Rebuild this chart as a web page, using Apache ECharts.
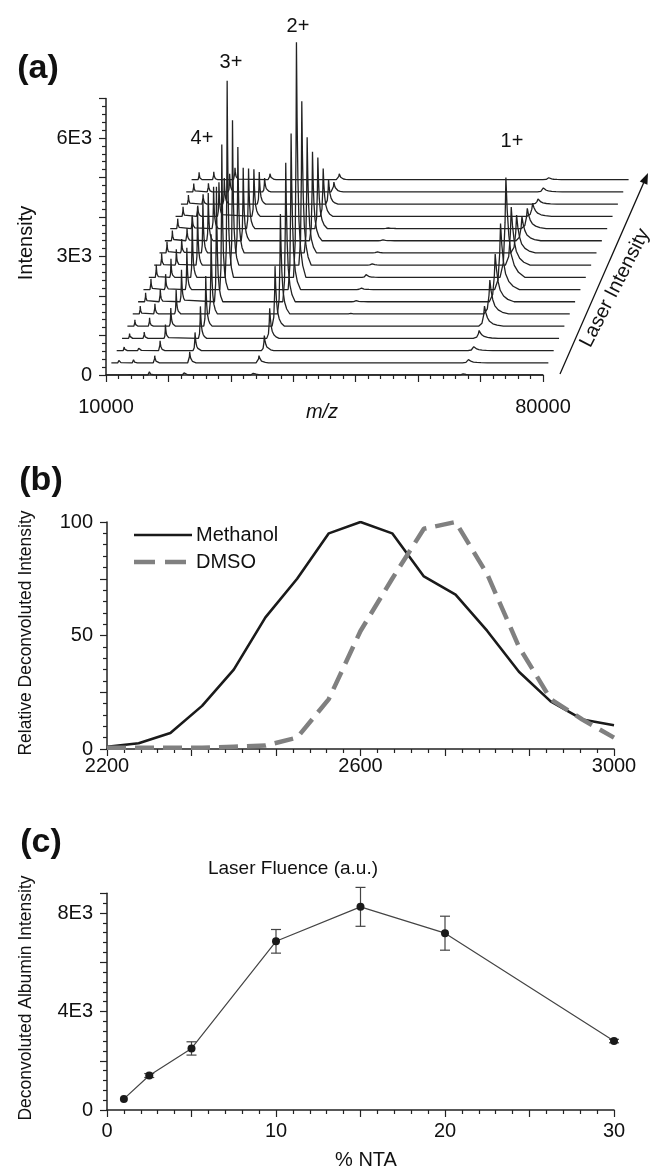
<!DOCTYPE html>
<html>
<head>
<meta charset="utf-8">
<script src="https://cdn.jsdelivr.net/npm/echarts@6/dist/echarts.min.js"></script>
<style>
html,body{margin:0;padding:0;background:#fff;}
#chart{width:651px;height:1168px;}
</style>
</head>
<body>
<div id="chart"></div>
<script>
// ---------------- DATA ----------------
// Panel (a): waterfall of 17 spectra (trace 0 = lowest laser intensity)
const traceCount = 17;
const peakNames = ['6+', '5+', '4+', '3+', '2+', 'dimer', '1+'];
const peakMz    = [11200, 13550, 16950, 22550, 33650, 44800, 67200];
const h6    = [30, 60, 90, 120, 160, 200, 230, 270, 320, 300, 280, 260, 250, 240, 230, 210, 190];
const h5    = [50, 80, 110, 160, 210, 260, 320, 390, 470, 400, 350, 320, 300, 270, 250, 220, 200];
const h4    = [80, 180, 250, 350, 460, 610, 810, 1060, 1570, 1470, 1370, 1210, 1060, 860, 660, 460, 300];
const h3    = [100, 280, 460, 810, 1270, 2020, 2910, 3670, 4980, 3670, 2680, 1850, 1520, 1190, 810, 350, 150];
const h2    = [80, 180, 380, 760, 1520, 2530, 3520, 3950, 5950, 4150, 2930, 2250, 1800, 1210, 630, 250, 150];
const hDim  = [0, 0, 0, 0, 0, 20, 40, 50, 70, 50, 40, 30, 20, 0, 0, 0, 0];
const h1    = [30, 80, 100, 200, 510, 860, 1210, 1670, 2530, 1470, 960, 610, 510, 330, 130, 100, 50];
const peakHeights = [h6, h5, h4, h3, h2, hDim, h1];
// relative peak profile: [fraction of m/z offset, fraction of height]
const peakShape = [[-0.014, 0], [-0.006, 0.15], [-0.002, 0.55], [0, 1], [0.003, 0.68], [0.007, 0.42], [0.012, 0.24], [0.02, 0.12], [0.03, 0.05], [0.045, 0]];
const traceShiftMz = 857;   // waterfall depth shift per trace (m/z units)
const traceShiftI  = 309;   // waterfall depth shift per trace (intensity units)
const mzRange = [10000, 80000];

// Panel (b)
const bMass    = [2200, 2250, 2300, 2350, 2400, 2450, 2500, 2550, 2600, 2650, 2700, 2750, 2800, 2850, 2900, 2950, 3000];
const methanol = [1, 2.5, 7, 19, 35, 58, 75, 95, 100, 95, 76, 68, 52, 34, 21, 13, 10.5];
const dmso     = [0.5, 0.5, 0.5, 0.5, 1, 1.5, 5, 22, 52, 75, 97, 100, 77, 45, 22, 13, 5];
const legendNames = ['Methanol', 'DMSO'];

// Panel (c)
const nta        = [1, 2.5, 5, 10, 15, 20, 30];
const albumin    = [450, 1400, 2500, 6850, 8250, 7180, 2800];
const albuminErr = [0, 80, 270, 480, 790, 690, 70];

// ---------------- BUILD ----------------
const FONT = 'Liberation Sans, Arial, Helvetica, sans-serif';
const INK = '#111';

function traceData(k) {
  const pts = [[mzRange[0] + k * traceShiftMz, k * traceShiftI]];
  peakMz.forEach((p, j) => {
    const h = peakHeights[j][k];
    if (!h) return;
    peakShape.forEach(([f, r]) => pts.push([p * (1 + f) + k * traceShiftMz, k * traceShiftI + h * r]));
  });
  pts.push([mzRange[1] + k * traceShiftMz, k * traceShiftI]);
  return pts;
}

// panel (a) geometry
const aLeft = 106, aBottom = 375, aWidth = 437, aHeight = 276.5, aYMax = 7000;
const pxPerI = aHeight / aYMax;
const pxPerMz = aWidth / (mzRange[1] - mzRange[0]);
const hidYMax = 9400, hidXMax = 96000;

const axisLineStyle = {color: '#222', width: 1.5};
const tickStyle = {color: '#222', width: 1.2};
const labelStyle = {fontSize: 20, color: INK, fontFamily: FONT};

const methanolStyle = {color: '#1a1a1a', width: 2.6};
const dmsoStyle = {color: '#808080', width: 4.5, type: [19, 9]};

const series = [];
for (let k = 0; k < traceCount; k++) {
  series.push({
    type: 'line', xAxisIndex: 1, yAxisIndex: 1, data: traceData(k),
    symbol: 'none', silent: true, animation: false,
    lineStyle: {color: '#222', width: 1.3}, z: 2
  });
}
series.push({
  name: legendNames[0], type: 'line', xAxisIndex: 2, yAxisIndex: 2,
  data: bMass.map((m, i) => [m, methanol[i]]), symbol: 'none', animation: false,
  lineStyle: methanolStyle
});
series.push({
  name: legendNames[1], type: 'line', xAxisIndex: 2, yAxisIndex: 2,
  data: bMass.map((m, i) => [m, dmso[i]]), symbol: 'none', animation: false,
  lineStyle: dmsoStyle
});
series.push({
  type: 'line', xAxisIndex: 3, yAxisIndex: 3,
  data: nta.map((x, i) => [x, albumin[i]]), symbol: 'circle', symbolSize: 8,
  animation: false, lineStyle: {color: '#444', width: 1.2}, itemStyle: {color: '#1a1a1a'}, z: 3
});
series.push({
  type: 'custom', xAxisIndex: 3, yAxisIndex: 3, animation: false, silent: true,
  data: nta.map((x, i) => [x, albumin[i], albuminErr[i]]),
  encode: {x: 0, y: 1},
  renderItem: function (params, api) {
    const x = api.value(0), y = api.value(1), e = api.value(2);
    if (!e) return null;
    const t = api.coord([x, y + e]), b = api.coord([x, y - e]);
    const w = 5, st = {stroke: '#444', lineWidth: 1.2};
    return {type: 'group', children: [
      {type: 'line', shape: {x1: t[0], y1: t[1], x2: b[0], y2: b[1]}, style: st},
      {type: 'line', shape: {x1: t[0] - w, y1: t[1], x2: t[0] + w, y2: t[1]}, style: st},
      {type: 'line', shape: {x1: b[0] - w, y1: b[1], x2: b[0] + w, y2: b[1]}, style: st}
    ]};
  }
});

function txt(text, x, y, size, opts) {
  opts = opts || {};
  return {
    type: 'text', x: x, y: y, rotation: opts.rot || 0, silent: true,
    style: {
      text: text, fill: INK,
      font: (opts.style || '') + ' ' + (opts.weight || 'normal') + ' ' + size + 'px ' + FONT,
      align: opts.align || 'center', verticalAlign: 'middle',
      textAlign: opts.align || 'center', textVerticalAlign: 'middle'
    }
  };
}

// arrow for "Laser Intensity"
const arrowFrom = [560, 374], arrowTo = [648, 173];
const ux = arrowTo[0] - arrowFrom[0], uy = arrowTo[1] - arrowFrom[1];
const ul = Math.hypot(ux, uy), dxu = ux / ul, dyu = uy / ul;
const headL = 11, headW = 4.2;
const hb = [arrowTo[0] - headL * dxu, arrowTo[1] - headL * dyu];

const graphics = [
  txt('(a)', 38, 69, 34, {weight: 'bold'}),
  txt('(b)', 41, 481, 34, {weight: 'bold'}),
  txt('(c)', 41, 843, 34, {weight: 'bold'}),
  txt('2+', 298, 26, 20),
  txt('3+', 231, 62, 20),
  txt('4+', 202, 138, 20),
  txt('1+', 512, 141, 20),
  txt('m/z', 322, 412, 20, {style: 'italic'}),
  txt('Intensity', 26, 243, 20, {rot: Math.PI / 2}),
  txt('Relative Deconvoluted Intensity', 26, 633, 17.5, {rot: Math.PI / 2}),
  txt('Deconvoluted Albumin Intensity', 26, 998, 17.5, {rot: Math.PI / 2}),
  txt('Laser Fluence (a.u.)', 293, 869, 19),
  txt('% NTA', 366, 1160, 20),
  txt('Laser Intensity', 615, 288, 20, {rot: Math.atan2(-uy, ux) - 0.06}),
  {type: 'line', silent: true, shape: {x1: arrowFrom[0], y1: arrowFrom[1], x2: hb[0], y2: hb[1]}, style: {stroke: '#111', lineWidth: 1.3}},
  {type: 'polygon', silent: true, shape: {points: [
    arrowTo,
    [hb[0] - headW * dyu, hb[1] + headW * dxu],
    [hb[0] + headW * dyu, hb[1] - headW * dxu]
  ]}, style: {fill: '#111'}},
  // legend of panel (b)
  {type: 'line', silent: true, shape: {x1: 134, y1: 535, x2: 192, y2: 535}, style: {stroke: methanolStyle.color, lineWidth: methanolStyle.width}},
  {type: 'line', silent: true, shape: {x1: 134, y1: 562, x2: 186, y2: 562}, style: {stroke: dmsoStyle.color, lineWidth: dmsoStyle.width, lineDash: [21, 10]}},
  txt(legendNames[0], 196, 535, 20, {align: 'left'}),
  txt(legendNames[1], 196, 562, 20, {align: 'left'})
];

const option = {
  backgroundColor: '#fff',
  animation: false,
  grid: [
    {left: aLeft, top: aBottom - aHeight, width: aWidth, height: aHeight},
    {left: aLeft, top: aBottom - hidYMax * pxPerI, width: (hidXMax - mzRange[0]) * pxPerMz, height: hidYMax * pxPerI},
    {left: 107, top: 522, width: 507, height: 227},
    {left: 107, top: 893.3, width: 507, height: 216.7}
  ],
  xAxis: [
    {gridIndex: 0, type: 'value', min: mzRange[0], max: mzRange[1], interval: 10000,
     axisLine: {lineStyle: axisLineStyle}, axisTick: {length: 7, lineStyle: tickStyle},
     minorTick: {show: true, splitNumber: 5, length: 4, lineStyle: tickStyle},
     splitLine: {show: false},
     axisLabel: Object.assign({margin: 22, showMinLabel: true, showMaxLabel: true,
       formatter: v => (v === 10000 || v === 80000) ? String(v) : ''}, labelStyle)},
    {gridIndex: 1, type: 'value', min: mzRange[0], max: hidXMax, show: false},
    {gridIndex: 2, type: 'value', min: 2200, max: 3000, interval: 400 / 3,
     axisLine: {lineStyle: axisLineStyle}, axisTick: {length: 7, lineStyle: tickStyle},
     minorTick: {show: true, splitNumber: 5, length: 4, lineStyle: tickStyle},
     splitLine: {show: false},
     axisLabel: Object.assign({margin: 7, showMinLabel: true, showMaxLabel: true,
       formatter: v => { const r = Math.round(v); return (r % 400 === 200) ? String(r) : ''; }}, labelStyle)},
    {gridIndex: 3, type: 'value', min: 0, max: 30, interval: 5,
     axisLine: {lineStyle: axisLineStyle}, axisTick: {length: 7, lineStyle: tickStyle},
     minorTick: {show: true, splitNumber: 5, length: 4, lineStyle: tickStyle},
     splitLine: {show: false},
     axisLabel: Object.assign({margin: 11, formatter: v => (v % 10 === 0) ? String(v) : ''}, labelStyle)}
  ],
  yAxis: [
    {gridIndex: 0, type: 'value', min: 0, max: aYMax, interval: 1000,
     axisLine: {show: true, lineStyle: axisLineStyle}, axisTick: {show: true, length: 7, lineStyle: tickStyle},
     minorTick: {show: true, splitNumber: 5, length: 4, lineStyle: tickStyle},
     splitLine: {show: false},
     axisLabel: Object.assign({margin: 14, formatter: v => v === 0 ? '0' : (v % 3000 === 0 ? (v / 1000) + 'E3' : '')}, labelStyle)},
    {gridIndex: 1, type: 'value', min: 0, max: hidYMax, show: false},
    {gridIndex: 2, type: 'value', min: 0, max: 100, interval: 25,
     axisLine: {show: true, lineStyle: axisLineStyle}, axisTick: {show: true, length: 7, lineStyle: tickStyle},
     minorTick: {show: true, splitNumber: 5, length: 4, lineStyle: tickStyle},
     splitLine: {show: false},
     axisLabel: Object.assign({margin: 14, formatter: v => (v % 50 === 0) ? String(v) : ''}, labelStyle)},
    {gridIndex: 3, type: 'value', min: 0, max: 8800, interval: 2000,
     axisLine: {show: true, lineStyle: axisLineStyle}, axisTick: {show: true, length: 7, lineStyle: tickStyle},
     minorTick: {show: true, splitNumber: 5, length: 4, lineStyle: tickStyle},
     splitLine: {show: false},
     axisLabel: Object.assign({margin: 14, formatter: v => v === 0 ? '0' : (v % 4000 === 0 ? (v / 1000) + 'E3' : '')}, labelStyle)}
  ],
  graphic: graphics,
  series: series
};

const chart = echarts.init(document.getElementById('chart'), null, {renderer: 'canvas'});
chart.setOption(option);
</script>
</body>
</html>
